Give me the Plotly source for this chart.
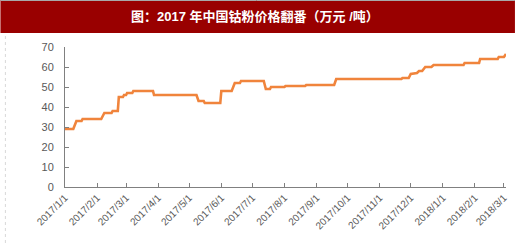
import plotly.graph_objects as go

# Data
dates = [
    "2017-01-01", "2017-01-09", "2017-01-12", "2017-01-17", "2017-01-18",
    "2017-02-05", "2017-02-08", "2017-02-15", "2017-02-16", "2017-02-21",
    "2017-02-22", "2017-02-26", "2017-02-27", "2017-03-01", "2017-03-02",
    "2017-03-07", "2017-03-08", "2017-03-27", "2017-03-28", "2017-05-08",
    "2017-05-10", "2017-05-15", "2017-05-16", "2017-05-31", "2017-06-01",
    "2017-06-11", "2017-06-14", "2017-06-19", "2017-06-20", "2017-07-12",
    "2017-07-14", "2017-07-18", "2017-07-19", "2017-08-01", "2017-08-02",
    "2017-08-21", "2017-08-22", "2017-09-18", "2017-09-20", "2017-11-22",
    "2017-11-23", "2017-11-29", "2017-12-01", "2017-12-07", "2017-12-09",
    "2017-12-12", "2017-12-15", "2017-12-21", "2017-12-23", "2018-01-21",
    "2018-01-22", "2018-02-05", "2018-02-06", "2018-02-23", "2018-02-24",
    "2018-03-01", "2018-03-03",
]
prices = [
    29, 29, 33, 33, 34,
    34, 37, 37, 38, 38,
    45, 45, 46, 46, 47,
    47, 48, 48, 46, 46,
    43, 43, 42, 42, 48,
    48, 52, 52, 53, 53,
    49, 49, 50, 50, 50.5,
    50.5, 51, 51, 54, 54,
    54.5, 54.5, 56.5, 57, 58,
    58, 60, 60, 61, 61,
    62, 62, 64, 64, 65,
    65, 66.5,
]
tick_dates = [
    "2017-01-01", "2017-02-01", "2017-03-01", "2017-04-01", "2017-05-01",
    "2017-06-01", "2017-07-01", "2017-08-01", "2017-09-01", "2017-10-01",
    "2017-11-01", "2017-12-01", "2018-01-01", "2018-02-01", "2018-03-01",
]
tick_labels = [
    "2017/1/1", "2017/2/1", "2017/3/1", "2017/4/1", "2017/5/1",
    "2017/6/1", "2017/7/1", "2017/8/1", "2017/9/1", "2017/10/1",
    "2017/11/1", "2017/12/1", "2018/1/1", "2018/2/1", "2018/3/1",
]
title_text = "图：2017 年中国钴粉价格翻番（万元 /吨）"

W, H = 520, 243
L, R, T, B = 65, 11, 47, 56
pw, ph = W - L - R, H - T - B

def px(x):
    return (x - L) / pw

def py(y):
    return (H - B - y) / ph

fig = go.Figure()
fig.add_trace(go.Scatter(
    x=dates, y=prices, mode="lines",
    line=dict(color="#F0843C", width=2.6),
    hoverinfo="skip", showlegend=False,
))

axis_color = "#808080"
tick_font = dict(family="Liberation Sans, Arial, sans-serif", size=10, color="#595959")

fig.update_layout(
    width=W, height=H,
    margin=dict(l=L, r=R, t=T, b=B),
    paper_bgcolor="white", plot_bgcolor="white",
    showlegend=False,
    xaxis=dict(
        type="date",
        range=["2017-01-01", "2018-03-03"],
        tickvals=tick_dates, ticktext=tick_labels,
        tickangle=-45, tickfont=tick_font,
        ticks="inside", ticklen=4, tickcolor=axis_color,
        showline=True, linecolor=axis_color, linewidth=1,
        showgrid=False, zeroline=False,
    ),
    yaxis=dict(
        range=[0, 70], tickvals=[0, 10, 20, 30, 40, 50, 60, 70],
        tickfont=dict(family="Liberation Sans, Arial, sans-serif", size=11, color="#595959"),
        ticks="inside", ticklen=4, tickcolor=axis_color,
        ticklabelstandoff=8,
        showline=True, linecolor=axis_color, linewidth=1,
        showgrid=False, zeroline=False,
    ),
    shapes=[
        dict(type="rect", xref="paper", yref="paper",
             x0=px(0), x1=px(518), y0=py(33), y1=py(0),
             fillcolor="#990000", line=dict(width=0), layer="above"),
        dict(type="line", xref="paper", yref="paper",
             x0=px(0), x1=px(518), y0=py(0.5), y1=py(0.5),
             line=dict(color="#a8a8a8", width=1)),
        dict(type="line", xref="paper", yref="paper",
             x0=px(5), x1=px(5), y0=py(243), y1=py(34),
             line=dict(color="#d8d8d8", width=1, dash="dot")),
    ],
    annotations=[
        dict(text=title_text, xref="paper", yref="paper",
             x=px(256), y=py(16.5), xanchor="center", yanchor="middle",
             showarrow=False,
             font=dict(family="Liberation Sans, Noto Sans CJK SC, sans-serif",
                       size=13, color="white", weight="bold")),
    ],
)

fig.write_html("out.html")
